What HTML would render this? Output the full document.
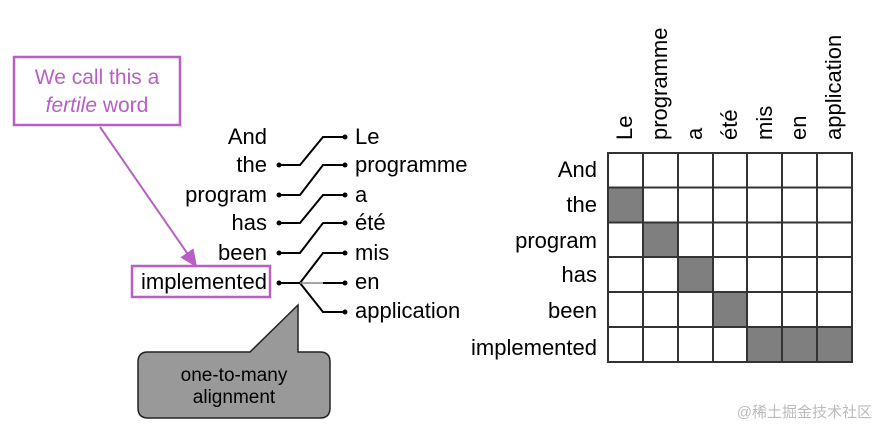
<!DOCTYPE html>
<html><head><meta charset="utf-8"><style>
body{margin:0;background:#fff;width:879px;height:428px;overflow:hidden}
svg text{font-family:"Liberation Sans",Arial,sans-serif;font-size:22px;fill:#000}
</style></head><body>
<svg width="879" height="428" viewBox="0 0 879 428" xmlns="http://www.w3.org/2000/svg">
<defs><marker id="ah" markerWidth="10" markerHeight="10" refX="8" refY="5" orient="auto"><path d="M0,1 L9,5 L0,9 z" fill="#b85fc4"/></marker></defs>
<rect x="14" y="57" width="166" height="68" fill="#fff" stroke="#b85fc4" stroke-width="2.5"/>
<text x="97" y="84" text-anchor="middle" style="fill:#b85fc4;font-size:21px">We call this a</text>
<text x="97" y="112" text-anchor="middle" style="fill:#b85fc4;font-size:21px"><tspan font-style="italic">fertile</tspan> word</text>
<line x1="100" y1="127" x2="196" y2="266" stroke="#b85fc4" stroke-width="2" marker-end="url(#ah)"/>
<rect x="132" y="266" width="138" height="31" fill="none" stroke="#b85fc4" stroke-width="2.5"/>
<g text-anchor="end">
<text x="267" y="144">And</text><text x="267" y="172">the</text><text x="267" y="202">program</text>
<text x="267" y="230">has</text><text x="267" y="260">been</text><text x="267" y="289">implemented</text>
</g>
<g>
<text x="355" y="144">Le</text><text x="355" y="172">programme</text><text x="355" y="202">a</text>
<text x="355" y="230">été</text><text x="355" y="260">mis</text><text x="355" y="289">en</text><text x="355" y="318">application</text>
</g>
<g stroke="#000" stroke-width="2" fill="none">
<path d="M278,165 H300 L323,137 H345"/>
<path d="M278,195 H300 L323,165 H345"/>
<path d="M278,223 H300 L323,195 H345"/>
<path d="M278,253 H300 L323,223 H345"/>
<path d="M278,283 H300 L323,253 H345"/>
<path d="M300,283 L323,312 H345"/>
<path d="M323,283 H345"/>
</g>
<line x1="300" y1="283" x2="323" y2="283" stroke="#888" stroke-width="1.5"/>
<g fill="#000">
<circle cx="279" cy="165" r="2.5"/><circle cx="279" cy="195" r="2.5"/><circle cx="279" cy="223" r="2.5"/><circle cx="279" cy="253" r="2.5"/><circle cx="279" cy="283" r="2.5"/>
<circle cx="345" cy="137" r="2.5"/><circle cx="345" cy="165" r="2.5"/><circle cx="345" cy="195" r="2.5"/><circle cx="345" cy="223" r="2.5"/><circle cx="345" cy="253" r="2.5"/><circle cx="345" cy="283" r="2.5"/><circle cx="345" cy="312" r="2.5"/>
</g>
<path d="M148,352 H250 L298,305 V352 H320 Q330,352 330,362 V408 Q330,418 320,418 H148 Q138,418 138,408 V362 Q138,352 148,352 Z" fill="#999" stroke="#222" stroke-width="1.5"/>
<text x="234" y="381" text-anchor="middle" style="font-size:19px">one-to-many</text>
<text x="234" y="403" text-anchor="middle" style="font-size:19px">alignment</text>
<g text-anchor="end">
<text x="597" y="177">And</text><text x="597" y="212">the</text><text x="597" y="248">program</text>
<text x="597" y="282">has</text><text x="597" y="318">been</text><text x="597" y="355">implemented</text>
</g>
<g style="font-size:21px">
<text transform="translate(632,140) rotate(-90)">Le</text>
<text transform="translate(667,140) rotate(-90)">programme</text>
<text transform="translate(702,140) rotate(-90)">a</text>
<text transform="translate(737,140) rotate(-90)">été</text>
<text transform="translate(772,140) rotate(-90)">mis</text>
<text transform="translate(806,140) rotate(-90)">en</text>
<text transform="translate(841,140) rotate(-90)">application</text>
</g>
<g fill="#7f7f7f">
<rect x="608" y="187.5" width="35" height="35"/>
<rect x="643" y="222.5" width="35" height="35"/>
<rect x="678" y="257" width="35" height="35"/>
<rect x="713" y="292" width="35" height="35"/>
<rect x="747" y="327" width="105" height="35"/>
</g>
<g stroke="#333" stroke-width="2" fill="none">
<rect x="608" y="153" width="244" height="209"/>
<path d="M643,153V362M678,153V362M713,153V362M747,153V362M782,153V362M817,153V362"/>
<path d="M608,187.5H852M608,222.5H852M608,257H852M608,292H852M608,327H852"/>
</g>
<text x="872" y="417" text-anchor="end" style="fill:#bbb;font-size:15px;font-family:'Liberation Sans','Noto Sans CJK SC',sans-serif">@稀土掘金技术社区</text>
</svg>
</body></html>
